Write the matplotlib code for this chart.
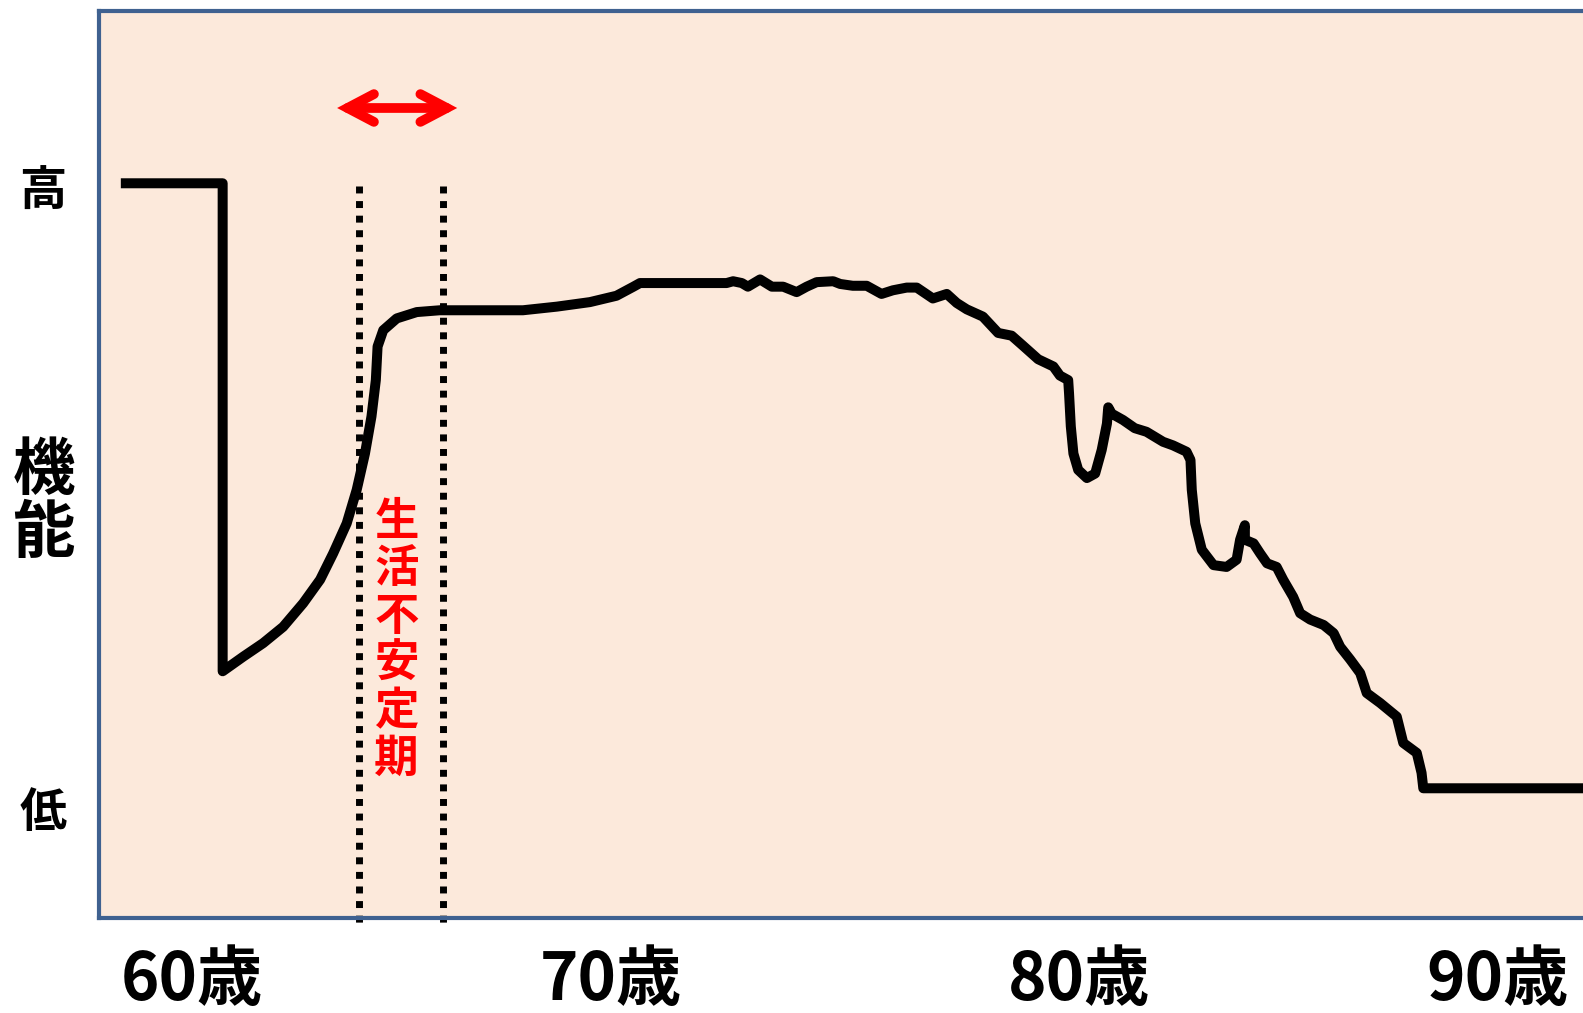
import matplotlib.pyplot as plt

plt.rcParams['font.family'] = ['Noto Sans CJK JP', 'DejaVu Sans']

# function level (0 = bottom of frame, 100 = top) against age
func_age = [58.37, 60.71, 60.71, 61.18, 61.64, 62.10, 62.56, 62.95, 63.25, 63.56, 63.79,
            63.98, 64.13, 64.23, 64.27, 64.40, 64.71, 65.17, 65.70, 67.61, 68.39, 69.15,
            69.76, 70.15, 70.30, 72.29, 72.44, 72.64, 72.78, 73.06, 73.33, 73.59, 73.90,
            74.13, 74.36, 74.74, 74.90, 75.19, 75.51, 75.85, 76.11, 76.43, 76.66, 77.03,
            77.35, 77.58, 77.81, 78.18, 78.53, 78.84, 79.10, 79.45, 79.80, 79.95, 80.14,
            80.16, 80.20, 80.26, 80.37, 80.57, 80.76, 80.91, 81.03, 81.06, 81.14, 81.40,
            81.67, 81.94, 82.32, 82.55, 82.86, 82.95, 82.98, 83.06, 83.21, 83.48, 83.78,
            84.01, 84.09, 84.20, 84.20, 84.40, 84.55, 84.71, 84.93, 85.08, 85.31, 85.47,
            85.70, 86.01, 86.24, 86.39, 86.62, 86.85, 87.00, 87.31, 87.69, 87.84, 88.15,
            88.26, 88.30, 91.97]
func_level = [81.0, 81.0, 27.2, 28.8, 30.3, 32.1, 34.7, 37.3, 40.2, 43.5, 47.2,
              51.2, 55.3, 59.3, 63.0, 64.8, 66.1, 66.8, 67.0, 67.0, 67.4, 67.9,
              68.6, 69.6, 70.0, 70.0, 70.2, 70.0, 69.6, 70.4, 69.6, 69.6, 69.0,
              69.6, 70.1, 70.2, 69.9, 69.7, 69.7, 68.8, 69.2, 69.5, 69.5, 68.3,
              68.8, 67.8, 67.1, 66.3, 64.5, 64.2, 63.1, 61.6, 60.8, 59.8, 59.3,
              57.8, 54.2, 51.2, 49.4, 48.5, 49.0, 51.6, 54.5, 56.3, 55.6, 54.9,
              54.0, 53.6, 52.5, 52.1, 51.4, 50.5, 47.2, 43.5, 40.6, 38.9, 38.7,
              39.5, 41.7, 43.3, 41.7, 41.3, 40.2, 39.1, 38.7, 37.3, 35.4, 33.6,
              32.9, 32.3, 31.4, 29.9, 28.5, 27.0, 24.8, 23.7, 22.2, 19.3, 18.2,
              16.0, 14.3, 14.3]

unstable_bounds = [63.84, 65.77]
unstable_top = 80.7
arrow_ends = [63.34, 66.10]
arrow_level = 89.3

age_labels = ['60歳', '70歳', '80歳', '90歳']
age_label_pos = [60.0, 69.62, 80.40, 90.0]

fig = plt.figure(figsize=(15.83, 10.13), dpi=100)
ax = fig.add_axes([0.0625, 0.0938, 0.9375, 0.8954])
ax.set_facecolor('#FCE9DB')
ax.set_xlim(57.867, 91.97)
ax.set_ylim(0, 100)
ax.set_xticks([])
ax.set_yticks([])
for side in ['left', 'top', 'bottom']:
    ax.spines[side].set_color('#3F6190')
    ax.spines[side].set_linewidth(3)
ax.spines['right'].set_visible(False)

ax.plot(func_age, func_level, color='black', lw=7.2,
        solid_joinstyle='round', solid_capstyle='butt', zorder=3)

for xb in unstable_bounds:
    ax.plot([xb, xb], [unstable_top, -0.6], color='black', lw=5,
            linestyle=(0, (1, 1.1)), clip_on=False, zorder=2)

ax.annotate('', xy=(arrow_ends[0], arrow_level), xytext=(arrow_ends[1], arrow_level),
            arrowprops=dict(arrowstyle='<->,head_length=1.9,head_width=1.0',
                            color='red', lw=7, capstyle='round', joinstyle='miter',
                            shrinkA=0, shrinkB=0))

ax.text(64.71, 30.6, '\n'.join('生活不安定期'), color='red', fontsize=32,
        fontweight='bold', ha='center', va='center', linespacing=1.04)

ax.text(56.58, 80.1, '高', fontsize=34, fontweight='bold', ha='center', va='center')
ax.text(56.6, 45.85, '機\n能', fontsize=45, fontweight='bold', ha='center', va='center',
        linespacing=0.985)
ax.text(56.58, 11.6, '低', fontsize=34, fontweight='bold', ha='center', va='center')

for lab, xp in zip(age_labels, age_label_pos):
    ax.text(xp, -6.9, lab, fontsize=47, fontweight='bold', ha='center', va='center')

fig.savefig('out.png', dpi=100)
